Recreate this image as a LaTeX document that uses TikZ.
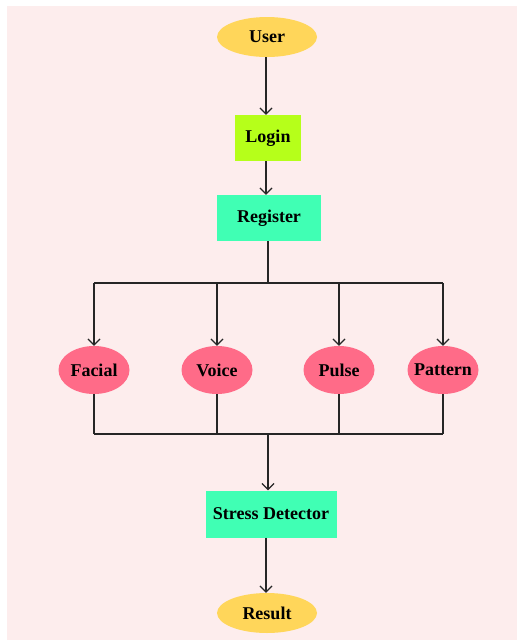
\documentclass[tikz,border=0pt]{standalone}
\usepackage{fontspec}
\setmainfont{Liberation Serif}
\usetikzlibrary{shapes.geometric,arrows.meta}
\definecolor{bgpink}{RGB}{253,237,237}
\definecolor{uyellow}{RGB}{255,214,90}
\definecolor{lime}{RGB}{182,255,26}
\definecolor{mint}{RGB}{64,255,180}
\definecolor{rose}{RGB}{255,107,136}
\tikzset{
  lbl/.style={font=\bfseries\fontsize{18}{20}\selectfont, text=black, inner sep=0pt},
  oval/.style={lbl, ellipse, fill=uyellow, minimum width=100pt, minimum height=40pt},
  sense/.style={lbl, ellipse, fill=rose, minimum width=71pt, minimum height=48pt, inner xsep=-9pt},
  boxy/.style={lbl, rectangle, minimum height=46pt},
  conn/.style={line width=1.2pt, black!85},
  arr/.style={conn, -{Straight Barb[length=6pt,width=12pt,line width=1.2pt]}}
}
\begin{document}
\begin{tikzpicture}[x=1pt,y=-1pt]
\useasboundingbox (0,0) rectangle (517,640);
\fill[white] (0,0) rectangle (517,640);
\fill[bgpink] (7,6) rectangle (517,640);
\node[oval] (user) at (267,37) {User};
\node[boxy, fill=lime, minimum width=66pt] (login) at (268,138) {Login};
\node[boxy, fill=mint, minimum width=104pt] (reg) at (269,218) {Register};
\node[sense] (fac) at (94,370) {Facial};
\node[sense] (voi) at (217,370) {Voice};
\node[sense] (pul) at (339,370) {Pulse};
\node[sense] (pat) at (443,370) {Pattern};
\node[boxy, fill=mint, minimum width=131pt, minimum height=47pt] (sd) at (271,514) {Stress Detector};
\node[oval] (res) at (267,613) {Result};
\coordinate (top) at (268,283);
\coordinate (bot) at (268,434);
\draw[arr] (user.south -| 266,0) -- (login.north -| 266,0);
\draw[arr] (login.south -| 266,0) -- (reg.north -| 266,0);
\draw[conn] (reg.south -| top) -- (top);
\draw[conn] (top -| fac) -- (top -| pat);
\foreach \n in {fac,voi,pul,pat}{
  \draw[arr] (top -| \n) -- (\n.north);
  \draw[conn] (\n.south) -- (bot -| \n);
}
\draw[conn] (bot -| fac) -- (bot -| pat);
\draw[arr] (bot) -- (sd.north -| bot);
\draw[arr] (sd.south -| 266,0) -- (res.north -| 266,0);
\end{tikzpicture}
\end{document}
